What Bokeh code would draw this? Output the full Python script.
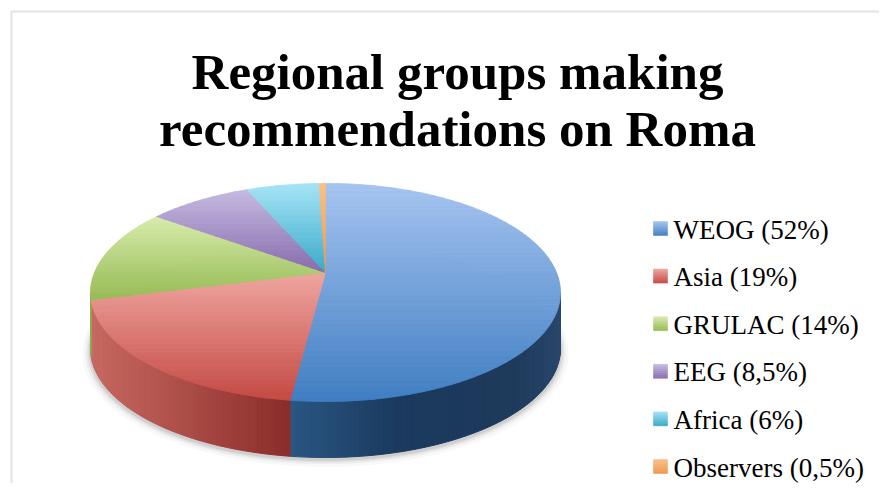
import math
from bokeh.plotting import figure
from bokeh.models import Range1d, ColumnDataSource, BoxAnnotation
from bokeh.core.properties import value
from bokeh.embed import file_html
from bokeh.resources import INLINE

# ---------------- data ----------------
title_lines = ["Regional groups making", "recommendations on Roma"]
groups = ["WEOG", "Asia", "GRULAC", "EEG", "Africa", "Observers"]
shares = [52, 19, 14, 8.5, 6, 0.5]
share_labels = ["52%", "19%", "14%", "8,5%", "6%", "0,5%"]

# top-face gradient colours (light at back, dark at front)
top_light = [(166, 196, 240), (240, 166, 160), (216, 236, 172), (198, 186, 226), (166, 228, 246), (250, 192, 134)]
top_dark = [(64, 126, 194), (196, 74, 68), (150, 186, 84), (134, 108, 172), (58, 170, 202), (240, 150, 78)]
# side-wall shading keyframes (u = horizontal position -1..1)
wall_keys = [
    [(-0.2, (44, 92, 138)), (0.25, (27, 58, 94)), (0.7, (30, 58, 92)), (1.0, (42, 74, 110))],
    [(-1.0, (202, 108, 100)), (-0.6, (180, 84, 78)), (-0.1, (136, 42, 40))],
    [(-1.0, (140, 172, 80)), (-0.9, (140, 172, 80))],
    [(-1.0, (110, 90, 150)), (1.0, (110, 90, 150))],
    [(-1.0, (50, 150, 180)), (1.0, (50, 150, 180))],
    [(-1.0, (220, 130, 60)), (1.0, (220, 130, 60))],
]

# ---------------- geometry helpers ----------------
CX, CY = 325.0, 272.0      # apex of the pie
SX, SY = 231.0, 105.4      # projection scales
K = 0.183                  # perspective factor
DEPTH = 56.0
TXT_DY = -10.0             # svg text baseline correction


def proj(theta_deg, dy=0.0, sx=SX, sy=SY):
    t = math.radians(theta_deg)
    u, v = math.sin(t), math.cos(t)
    w = 1.0 + K * v
    return (CX + sx * u / w, CY - sy * v / w + dy)


def lerp(a, b, t):
    return tuple(int(round(a[i] + (b[i] - a[i]) * t)) for i in range(3))


def hexc(c):
    return "#%02x%02x%02x" % c


def clip_band(poly, y0, y1):
    def half(pts, keep, yc):
        out = []
        n = len(pts)
        for i in range(n):
            P, Q = pts[i], pts[(i + 1) % n]
            pin, qin = keep(P), keep(Q)
            if pin:
                out.append(P)
            if pin != qin:
                t = (yc - P[1]) / (Q[1] - P[1])
                out.append((P[0] + t * (Q[0] - P[0]), yc))
        return out
    pts = half(poly, lambda p: p[1] >= y0, y0)
    if len(pts) < 3:
        return []
    pts = half(pts, lambda p: p[1] <= y1, y1)
    return pts if len(pts) >= 3 else []


def gradient_bands(poly, c_light, c_dark, step=2.5):
    ys = [p[1] for p in poly]
    ymin, ymax = min(ys), max(ys)
    n = max(1, int(math.ceil((ymax - ymin) / step)))
    out = []
    for i in range(n):
        y0 = ymin + (ymax - ymin) * i / n
        y1 = ymin + (ymax - ymin) * (i + 1) / n
        band = clip_band(poly, y0, y1)
        if band:
            t = (i + 0.5) / n
            out.append(([p[0] for p in band], [p[1] for p in band], hexc(lerp(c_light, c_dark, t))))
    return out


def key_color(keys, u):
    if u <= keys[0][0]:
        return keys[0][1]
    for (u0, c0), (u1, c1) in zip(keys[:-1], keys[1:]):
        if u0 <= u <= u1:
            return lerp(c0, c1, (u - u0) / (u1 - u0))
    return keys[-1][1]


# slice angles (clockwise from 12 o'clock)
total = sum(shares)
starts, ends = [], []
acc = 0.0
for s in shares:
    starts.append(acc / total * 360.0)
    acc += s
    ends.append(acc / total * 360.0)

# ---------------- figure ----------------
W, H = 879, 483
p = figure(width=W, height=H, x_range=Range1d(0, W), y_range=Range1d(H, 0),
           output_backend="svg", toolbar_location=None, min_border=0,
           x_axis_type=None, y_axis_type=None)
p.grid.visible = False
p.outline_line_color = None
p.background_fill_color = "white"
p.border_fill_color = "white"

# soft shadow under the pie
for e, a in [(8, 0.04), (5, 0.06), (3, 0.08), (1.5, 0.10)]:
    pts = [proj(t, DEPTH + 2 + e * 0.3, SX + e, SY + e * 0.5) for t in range(0, 361, 2)]
    p.patch([q[0] for q in pts], [q[1] for q in pts], fill_color="#404040", fill_alpha=a, line_color=None)

# side walls (front-facing part only)
theta_r = math.degrees(math.acos(-K))
theta_l = 360.0 - theta_r
wx, wy, wc = [], [], []
for i in range(len(shares)):
    a0 = max(starts[i], theta_r)
    a1 = min(ends[i], theta_l)
    if a1 <= a0:
        continue
    n = max(1, int(math.ceil(a1 - a0)))
    for j in range(n):
        t0 = a0 + (a1 - a0) * j / n
        t1 = a0 + (a1 - a0) * (j + 1) / n
        q0, q1 = proj(t0), proj(t1)
        b0, b1 = proj(t0, DEPTH), proj(t1, DEPTH)
        wx.append([q0[0], q1[0], b1[0], b0[0]])
        wy.append([q0[1], q1[1], b1[1], b0[1]])
        u = math.sin(math.radians((t0 + t1) / 2))
        wc.append(hexc(key_color(wall_keys[i], u)))
p.patches("xs", "ys", source=ColumnDataSource(dict(xs=wx, ys=wy, c=wc)),
          fill_color="c", line_color="c", line_width=1)

# top faces with vertical gradient
tx, ty, tc = [], [], []
for i in range(len(shares)):
    n = max(2, int(math.ceil(ends[i] - starts[i])))
    poly = [(CX, CY)] + [proj(starts[i] + (ends[i] - starts[i]) * j / n) for j in range(n + 1)]
    for bx, by, c in gradient_bands(poly, top_light[i], top_dark[i]):
        tx.append(bx); ty.append(by); tc.append(c)
p.patches("xs", "ys", source=ColumnDataSource(dict(xs=tx, ys=ty, c=tc)),
          fill_color="c", line_color="c", line_width=0.8)

# legend
LX, LY0, LDY, SQ = 660.0, 228.0, 47.6, 14.0
lx, ly, lc = [], [], []
for i in range(len(groups)):
    cy = LY0 + i * LDY
    sq = [(LX - SQ / 2, cy - SQ / 2), (LX + SQ / 2, cy - SQ / 2), (LX + SQ / 2, cy + SQ / 2), (LX - SQ / 2, cy + SQ / 2)]
    for bx, by, c in gradient_bands(sq, top_light[i], top_dark[i], step=2.0):
        lx.append(bx); ly.append(by); lc.append(c)
p.patches("xs", "ys", source=ColumnDataSource(dict(xs=lx, ys=ly, c=lc)),
          fill_color="c", line_color="c", line_width=0.5)

labels = [f"{g} ({s})" for g, s in zip(groups, share_labels)]
p.text(x=[LX + 13] * len(labels), y=[LY0 + 11 + TXT_DY + i * LDY for i in range(len(labels))], text=labels,
       text_font=value("Liberation Serif"), text_font_size=value("27px"),
       text_align="left", text_baseline="alphabetic", text_color="#000000")

# title
p.text(x=[457, 457], y=[81 + TXT_DY, 138 + TXT_DY], text=title_lines,
       text_font=value("Liberation Serif"), text_font_style="bold", text_font_size=value("51px"),
       text_align="center", text_baseline="alphabetic", text_color="black")

# chart-area border (cut off at right and bottom)
p.add_layout(BoxAnnotation(left=11, right=2000, top=11, bottom=2000, fill_alpha=0,
                           line_color="#a3a3a3", line_width=2))

open("out.html", "w").write(file_html(p, INLINE))
